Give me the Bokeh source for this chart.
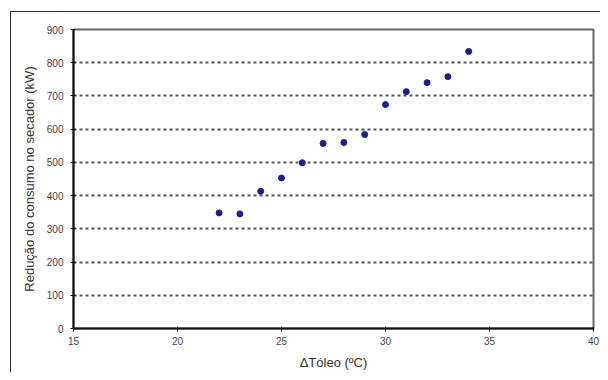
from bokeh.plotting import figure
from bokeh.models import Range1d, FixedTicker
from bokeh.embed import file_html
from bokeh.resources import INLINE

delta_t = [22, 23, 24, 25, 26, 27, 28, 29, 30, 31, 32, 33, 34]
reducao = [348, 345, 413, 453, 499, 557, 560, 584, 674, 713, 740, 758, 834]

x_ticks = [15, 20, 25, 30, 35, 40]
y_ticks = [0, 100, 200, 300, 400, 500, 600, 700, 800, 900]

p = figure(width=600, height=372, output_backend="svg", toolbar_location=None,
           x_range=Range1d(15, 40), y_range=Range1d(0, 900),
           min_border_left=73, min_border_top=29, min_border_right=7, min_border_bottom=44)
p.border_fill_color = None
p.background_fill_color = "white"
p.styles = {
    "background-color": "white",
    "background-image": "linear-gradient(#333,#333), linear-gradient(#333,#333)",
    "background-size": "1px 100%, 100% 1px",
    "background-position": "10px 11px, 10px 11px",
    "background-repeat": "no-repeat",
}

p.scatter(delta_t, reducao, size=6, color="#1c1c8f", marker="circle")

p.outline_line_color = "#666666"
p.outline_line_width = 2
p.xgrid.grid_line_color = None
p.ygrid.grid_line_color = "#555555"
p.ygrid.grid_line_width = 2
p.ygrid.grid_line_dash = "3 3"

p.xaxis.ticker = FixedTicker(ticks=x_ticks)
p.yaxis.ticker = FixedTicker(ticks=y_ticks)
for ax in (p.xaxis[0], p.yaxis[0]):
    ax.axis_line_color = "#111111"
    ax.axis_line_width = 2
    ax.major_tick_line_color = "#111111"
    ax.major_tick_in = 2
    ax.major_tick_out = 3
    ax.minor_tick_line_color = None
    ax.major_label_text_font = "Liberation Sans"
    ax.major_label_text_font_size = "10px"
    ax.major_label_text_color = "#444444"
    ax.axis_label_text_font = "Liberation Sans"
    ax.axis_label_text_font_style = "normal"
    ax.axis_label_text_font_size = "13px"
    ax.axis_label_text_color = "#333333"

p.xaxis.axis_label = "ΔTóleo (ºC)"
p.yaxis.axis_label = "Redução do consumo no secador (kW)"
p.xaxis.major_label_standoff = 5
p.xaxis.axis_label_standoff = 7
p.yaxis.major_label_standoff = 7
p.yaxis.axis_label_standoff = 7

open("out.html", "w").write(file_html(p, INLINE))
